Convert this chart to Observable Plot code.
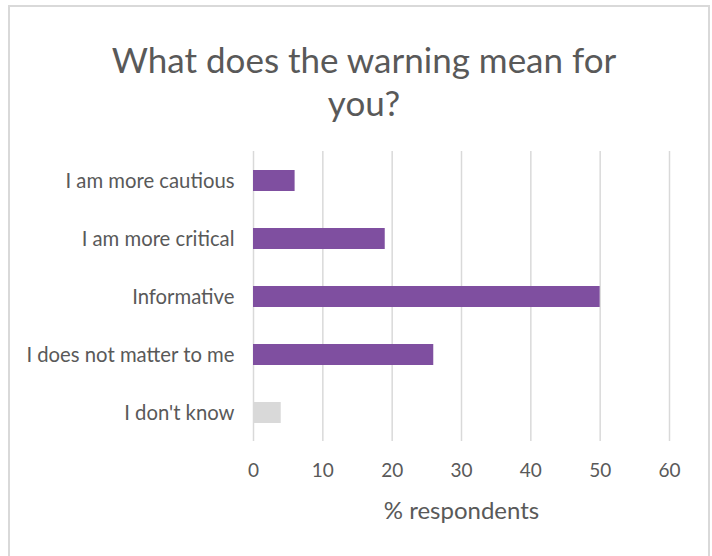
<!DOCTYPE html>
<html>
<head>
<meta charset="utf-8">
<script src="https://cdn.jsdelivr.net/npm/d3@7"></script>
<script src="https://cdn.jsdelivr.net/npm/@observablehq/plot@0.6"></script>
<style>
  html, body { margin: 0; padding: 0; background: #fff; overflow: hidden; }
  #wrap { position: relative; width: 712px; height: 556px; overflow: hidden; font-family: Lato, sans-serif; }
  #frame { position: absolute; left: 8px; top: 5px; width: 702px; height: 600px; border: 2px solid #d9d9d9; box-sizing: border-box; }
  #title { position: absolute; left: 0; width: 728px; top: 38px; text-align: center; font-size: 35px; line-height: 43px; color: #595959; font-weight: 400; }
  #chart { position: absolute; left: 0; top: 0; }
</style>
</head>
<body>
<div id="wrap">
  <div id="frame"></div>
  <div id="title">What does the warning mean for<br>you?</div>
  <div id="chart"></div>
</div>
<script>
const categories = ["I am more cautious", "I am more critical", "Informative", "I does not matter to me", "I don't know"];
const values = [6, 19, 50, 26, 4];
const barColors = ["#7f4fa0", "#7f4fa0", "#7f4fa0", "#7f4fa0", "#d9d9d9"];
const xTicks = [0, 10, 20, 30, 40, 50, 60];
const xLabel = "% respondents";

const data = categories.map((c, i) => ({category: c, value: values[i], color: barColors[i]}));

const chart = Plot.plot({
  width: 712,
  height: 556,
  marginLeft: 253,
  marginRight: 43,
  marginTop: 151,
  marginBottom: 115,
  style: {fontFamily: "Lato, sans-serif", color: "#595959", background: "transparent"},
  x: {domain: [0, 60], ticks: xTicks},
  y: {domain: categories, paddingInner: 0.646, paddingOuter: 0.323},
  marks: [
    Plot.gridX(xTicks, {stroke: "#d9d9d9", strokeOpacity: 1, strokeWidth: 1.5}),
    Plot.barX(data, {y: "category", x: "value", fill: "color"}),
    Plot.axisX(xTicks, {tickSize: 0, tickPadding: 22, fontSize: 19, label: null, fill: "#595959"}),
    Plot.text([xLabel], {frameAnchor: "bottom", dy: 77, fontSize: 24, fill: "#595959", text: d => d}),
    Plot.axisY({tickSize: 0, tickPadding: 19, fontSize: 20.3, label: null, fill: "#595959"})
  ]
});
document.getElementById("chart").appendChild(chart);
</script>
</body>
</html>
